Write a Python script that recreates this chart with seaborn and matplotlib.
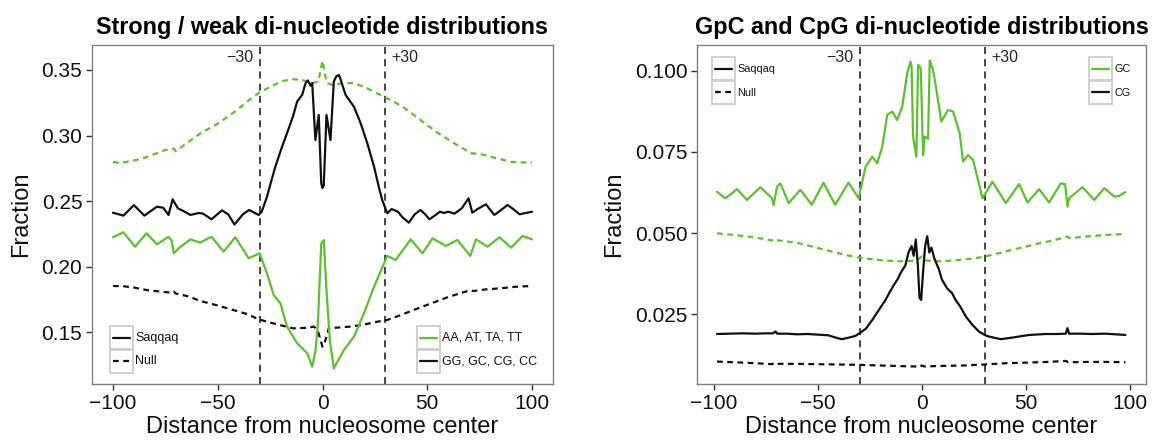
import numpy as np
import pandas as pd
import seaborn as sns
import matplotlib
matplotlib.use("Agg")
import matplotlib.pyplot as plt
from matplotlib.patches import Rectangle
from matplotlib.lines import Line2D
from matplotlib.transforms import Affine2D, blended_transform_factory

# ---------------- left panel: strong / weak ----------------
weak_null_x = [-100, -97, -90, -85, -80, -75, -71, -70, -65, -58, -50, -42, -35, -30, -25, -20, -15, -10, -5, -2,
               0, 2, 5, 10, 15, 20, 25, 30, 35, 40, 45, 50, 55, 60, 65, 70, 71, 75, 80, 85, 90, 95, 100]
weak_null_y = [0.280, 0.279, 0.281, 0.283, 0.286, 0.289, 0.290, 0.288, 0.294, 0.302, 0.309, 0.318, 0.327, 0.333,
               0.337, 0.341, 0.343, 0.3425, 0.340, 0.341, 0.357, 0.340, 0.3385, 0.340, 0.340, 0.337, 0.333, 0.329,
               0.325, 0.320, 0.314, 0.308, 0.302, 0.297, 0.292, 0.2875, 0.2865, 0.286, 0.284, 0.282, 0.280, 0.2795,
               0.2795]

strong_saq_x = [-100, -95, -90, -85, -79, -76, -73.5, -71.5, -69, -67, -63, -59, -57, -53, -48, -45, -42, -38, -35,
                -30.5, -29, -26.5, -24.5, -22.5, -19.3, -16.1, -14, -12.1, -9.7, -8.1, -7, -5.7, -4.9, -3.4, -1.8,
                -0.6, 0, 0.6, 1.9, 3.8, 5.4, 6.5, 7.8, 8.8, 11, 15, 18.2, 21.4, 24.6, 27, 28.5, 30.9, 33, 36, 38,
                41.2, 44, 46.8, 49, 51, 54, 56, 58, 60, 63, 66.5, 69.7, 71.5, 74, 78, 82, 85, 88.3, 91, 94, 97, 100]
strong_saq_y = [0.2412, 0.2390, 0.2470, 0.2390, 0.2458, 0.2450, 0.2395, 0.2514, 0.2445, 0.2430, 0.2395, 0.2410,
                0.2405, 0.2362, 0.2430, 0.2400, 0.2322, 0.2400, 0.2433, 0.2395, 0.2420, 0.2534, 0.2650, 0.2763,
                0.2915, 0.3055, 0.3150, 0.3259, 0.3310, 0.3399, 0.3420, 0.3380, 0.3400, 0.2966, 0.3157, 0.2636,
                0.2600, 0.2620, 0.3157, 0.2966, 0.3411, 0.3450, 0.3462, 0.3420, 0.3310, 0.3220, 0.3094, 0.2940,
                0.2763, 0.2600, 0.2509, 0.2408, 0.2440, 0.2420, 0.2380, 0.2336, 0.2400, 0.2433, 0.2400, 0.2362,
                0.2395, 0.2420, 0.2410, 0.2420, 0.2405, 0.2446, 0.2522, 0.2412, 0.2440, 0.2476, 0.2395, 0.2430,
                0.2471, 0.2440, 0.2400, 0.2410, 0.2420]

weak_saq_x = [-100, -95, -89.5, -84, -79, -73.5, -72, -71, -68, -63, -58.5, -53, -47.2, -41.6, -35.2, -30, -26.5,
              -23.3, -20.1, -16.9, -12.1, -7.3, -4.9, -3.3, -2.2, -0.6, 0.6, 1.9, 3.5, 5.4, 10.2, 15, 19.8, 24.6,
              30.9, 34.9, 42.1, 47.7, 52.5, 58.9, 64.4, 70.5, 72, 73.2, 78.8, 84.4, 90, 95.5, 100]
weak_saq_y = [0.2225, 0.2263, 0.2153, 0.2255, 0.2171, 0.2229, 0.2200, 0.2103, 0.2150, 0.2209, 0.2184, 0.2229,
              0.2115, 0.2225, 0.2065, 0.2103, 0.1950, 0.1785, 0.1722, 0.1544, 0.1417, 0.1341, 0.1239, 0.1366,
              0.1570, 0.2179, 0.2204, 0.1823, 0.1442, 0.1226, 0.1366, 0.1468, 0.1646, 0.1848, 0.2083, 0.2052,
              0.2209, 0.2103, 0.2217, 0.2159, 0.2204, 0.2083, 0.2150, 0.2209, 0.2153, 0.2225, 0.2146, 0.2235,
              0.2209]

strong_null_x = [-100, -95, -90, -84, -78, -72, -71, -70, -64, -58.4, -50, -42.6, -36, -30.5, -25, -20, -14, -8,
                 -4, -2, 0, 1, 3, 8, 13, 20, 25, 30.9, 37, 43.7, 50, 55, 59.7, 65, 70.8, 72, 73.2, 78, 85, 92, 100]
strong_null_y = [0.1854, 0.1852, 0.1842, 0.1823, 0.1812, 0.1803, 0.1812, 0.1796, 0.1775, 0.1740, 0.1705, 0.1671,
                 0.1640, 0.1600, 0.1575, 0.1555, 0.1531, 0.1535, 0.1544, 0.1500, 0.1391, 0.1420, 0.1531, 0.1538,
                 0.1544, 0.1560, 0.1578, 0.1595, 0.1630, 0.1672, 0.1710, 0.1740, 0.1768, 0.1795, 0.1823, 0.1815,
                 0.1818, 0.1828, 0.1836, 0.1848, 0.1854]

# ---------------- right panel: GpC / CpG ----------------
gc_saq_x = [-98.4, -94.4, -88.8, -84, -77.6, -72, -71.2, -69.6, -68, -64, -58.4, -52.9, -47.3, -41.7, -35.3, -30.4,
            -27.1, -23.9, -21.5, -19.1, -16.7, -14.3, -11.9, -9.5, -7.1, -5.5, -5, -4.3, -2.7, -1.9, -0.6, 0.5,
            1.3, 2.9, 3.7, 5.3, 6.9, 9.3, 12.5, 14.9, 18.1, 19.7, 22.1, 24.5, 29, 33.8, 40.2, 46.6, 50.6, 56.2,
            61, 66.6, 68.7, 69.8, 70.6, 77, 82.7, 87.5, 92.3, 94.5, 97.6]
gc_saq_y = [0.0627, 0.0607, 0.0635, 0.0602, 0.0641, 0.0607, 0.0586, 0.0643, 0.0653, 0.0592, 0.0633, 0.0587,
            0.0655, 0.0587, 0.0655, 0.0607, 0.0704, 0.0735, 0.0715, 0.0766, 0.0864, 0.0874, 0.0848, 0.0889,
            0.0992, 0.1028, 0.1010, 0.0797, 0.0735, 0.1018, 0.1007, 0.0740, 0.0797, 0.0790, 0.1031, 0.1002,
            0.0941, 0.0843, 0.0879, 0.0874, 0.0807, 0.0720, 0.0740, 0.0725, 0.0607, 0.0658, 0.0592, 0.0651,
            0.0594, 0.0635, 0.0594, 0.0653, 0.0650, 0.0581, 0.0607, 0.0641, 0.0602, 0.0638, 0.0612, 0.0614,
            0.0626]

gc_null_x = [-98.4, -90, -83.3, -76, -72, -71, -70, -65, -59.3, -52, -43.3, -37, -31.3, -25, -18, -10, -5, -2, 0,
             1.5, 5, 10, 17.8, 24, 29.8, 37, 43, 49.8, 56, 62, 68.5, 69.8, 71, 77, 84, 91, 97.6]
gc_null_y = [0.0499, 0.0494, 0.0489, 0.0482, 0.0477, 0.0482, 0.0478, 0.0474, 0.0469, 0.0457, 0.0443, 0.0433,
             0.0425, 0.0420, 0.0415, 0.0413, 0.0414, 0.0418, 0.0428, 0.0416, 0.0413, 0.0413, 0.0417, 0.0421,
             0.0427, 0.0438, 0.0448, 0.0458, 0.0468, 0.0476, 0.0486, 0.0489, 0.0484, 0.0488, 0.0492, 0.0495,
             0.0497]

cg_saq_x = [-98.4, -92, -86, -80, -75, -71.5, -70.3, -69.5, -65, -60, -55, -50, -45, -41, -38.5, -35, -32, -30.3,
            -27, -23.9, -20.5, -17.5, -15.5, -13.5, -11.5, -10, -8, -6.5, -5, -4, -3, -2, -1.2, -0.4, 0.5, 1.5,
            2.5, 3.5, 4.5, 6, 8, 9.6, 12, 14.4, 16, 18.4, 21, 24.2, 27.4, 30.4, 32.2, 37.8, 43.4, 51.4, 59.4, 65,
            69, 69.8, 70.6, 76, 81.7, 88, 93, 97.6]
cg_saq_y = [0.0189, 0.0190, 0.0191, 0.0190, 0.0191, 0.0191, 0.0197, 0.0190, 0.0190, 0.0188, 0.0189, 0.0187,
            0.0185, 0.0177, 0.0173, 0.0178, 0.0183, 0.0190, 0.0205, 0.0232, 0.0265, 0.0294, 0.0318, 0.0340,
            0.0360, 0.0380, 0.0400, 0.0440, 0.0460, 0.0430, 0.0480, 0.0400, 0.0300, 0.0294, 0.0380, 0.0460,
            0.0490, 0.0440, 0.0455, 0.0420, 0.0390, 0.0356, 0.0330, 0.0315, 0.0295, 0.0273, 0.0243, 0.0217,
            0.0196, 0.0185, 0.0181, 0.0173, 0.0178, 0.0186, 0.0189, 0.0189, 0.0190, 0.0207, 0.0190, 0.0190,
            0.0189, 0.0190, 0.0188, 0.0186]

cg_null_x = [-98.4, -90, -80, -72, -71, -70, -60, -50, -40, -30.4, -20, -10, -3, -1.3, 0, 1, 5, 11.3, 20, 29.8,
             40, 51.3, 60, 69.2, 70, 80, 90, 97.6]
cg_null_y = [0.0104, 0.0102, 0.0099, 0.0096, 0.0100, 0.0097, 0.0097, 0.0096, 0.0095, 0.0094, 0.0092, 0.0090,
             0.0089, 0.0087, 0.0092, 0.0089, 0.0090, 0.0091, 0.0092, 0.0095, 0.0099, 0.0101, 0.0103, 0.0106,
             0.0102, 0.0103, 0.0103, 0.0102]

left_yticks = [0.15, 0.20, 0.25, 0.30, 0.35]
right_yticks = [0.025, 0.050, 0.075, 0.100]
xticks = [-100, -50, 0, 50, 100]

GREEN = "#5fbf32"
BLACK = "#111111"
SOLID = "-"
DOT = (0, (2.6, 2.0))

sns.set_theme(style="white")
plt.rcParams["font.family"] = ["Liberation Sans", "DejaVu Sans"]

W, H = 1152, 445
fig = plt.figure(figsize=(W / 100, H / 100), dpi=100)
px = Affine2D().scale(1 / W, -1 / H).translate(0, 1) + fig.transFigure


def add_axes(x0, x1, y0=45, y1=384):
    return fig.add_axes([x0 / W, 1 - y1 / H, (x1 - x0) / W, (y1 - y0) / H])


def draw(ax, x, y, color, ls):
    df = pd.DataFrame({"x": x, "y": y})
    sns.lineplot(data=df, x="x", y="y", ax=ax, color=color, linestyle=ls, lw=1.6,
                 estimator=None, sort=False, legend=False)


def style(ax, title, yticks, fmt, xlim, ylim, ylab_x, tick_fs):
    ax.set_xlim(*xlim)
    ax.set_ylim(*ylim)
    ax.set_xticks(xticks)
    ax.set_yticks(yticks)
    ax.set_yticklabels([fmt.format(v) for v in yticks])
    ax.set_xticklabels(["\u2212100", "\u221250", "0", "50", "100"])
    ax.tick_params(axis="both", direction="out", length=4, width=1.0, color="#333333",
                   labelsize=tick_fs, labelcolor="#111111", pad=3, left=True, bottom=True)
    for s in ax.spines.values():
        s.set_color("#808080")
        s.set_linewidth(1.0)
    ax.set_title(title, fontsize=16.8, fontweight="bold", pad=8, color="black")
    ax.set_xlabel("Distance from nucleosome center", fontsize=17, color="#111111")
    ax.set_ylabel("Fraction", fontsize=17, color="#111111")
    ax.xaxis.set_label_coords(0.5, -0.095)
    ax.yaxis.set_label_coords(ylab_x, 0.5)
    ax.grid(False)
    for v in (-30, 30):
        ax.axvline(v, color=BLACK, lw=1.1, linestyle=(0, (4.6, 3.4)), zorder=1)
    tr = blended_transform_factory(ax.transData, ax.transAxes)
    ax.text(-33, 0.962, "\u221230", transform=tr, ha="right", va="center", fontsize=11.5)
    ax.text(33, 0.962, "+30", transform=tr, ha="left", va="center", fontsize=11.5)


def key_legend(x0, y0, entries, fs):
    for i, (label, color, ls) in enumerate(entries):
        top = y0 + i * 23.5
        fig.add_artist(Rectangle((x0, top), 23, 23, transform=px, fc="white", ec="#cfcfcf", lw=1.4))
        fig.add_artist(Line2D([x0 + 3, x0 + 20], [top + 11.5, top + 11.5], transform=px,
                              color=color, linestyle=ls, lw=1.6))
        fig.text(x0 + 25.5, top + 12, label, transform=px, ha="left", va="center", fontsize=fs,
                 color="#111111")


# left
axL = add_axes(92, 553)
draw(axL, weak_null_x, weak_null_y, GREEN, DOT)
draw(axL, strong_null_x, strong_null_y, BLACK, DOT)
draw(axL, weak_saq_x, weak_saq_y, GREEN, SOLID)
draw(axL, strong_saq_x, strong_saq_y, BLACK, SOLID)
style(axL, "Strong / weak di-nucleotide distributions", left_yticks, "{:.2f}",
      (-110, 110), (0.1107, 0.369), -0.13, 15)

# right
axR = add_axes(697, 1146)
draw(axR, gc_null_x, gc_null_y, GREEN, DOT)
draw(axR, cg_null_x, cg_null_y, BLACK, DOT)
draw(axR, gc_saq_x, gc_saq_y, GREEN, SOLID)
draw(axR, cg_saq_x, cg_saq_y, BLACK, SOLID)
style(axR, "GpC and CpG di-nucleotide distributions", right_yticks, "{:.3f}",
      (-108, 107.5), (0.0035, 0.1079), -0.16, 15)

key_legend(110, 326, [("Saqqaq", BLACK, SOLID), ("Null", BLACK, DOT)], 9)
key_legend(417, 326, [("AA, AT, TA, TT", GREEN, SOLID), ("GG, GC, CG, CC", BLACK, SOLID)], 9)
key_legend(712, 57, [("Saqqaq", BLACK, SOLID), ("Null", BLACK, DOT)], 7.8)
key_legend(1089, 57, [("GC", GREEN, SOLID), ("CG", BLACK, SOLID)], 7.8)

fig.savefig("out.png", dpi=100)
